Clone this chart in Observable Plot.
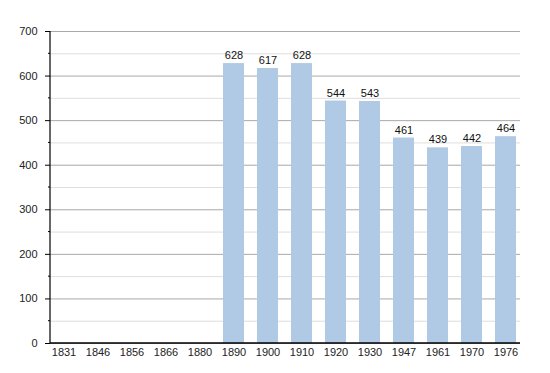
<!DOCTYPE html>
<html>
<head>
<meta charset="utf-8">
<script src="https://cdn.jsdelivr.net/npm/d3@7"></script>
<script src="https://cdn.jsdelivr.net/npm/@observablehq/plot@0.6"></script>
<style>
  html, body { margin: 0; padding: 0; background: #fff; }
  svg { display: block; }
</style>
</head>
<body>
<div id="chart"></div>
<script>
const years = ["1831","1846","1856","1866","1880","1890","1900","1910","1920","1930","1947","1961","1970","1976"];
const population = [null,null,null,null,null,628,617,628,544,543,461,439,442,464];
const majorTicks = [0,100,200,300,400,500,600,700];
const minorTicks = [50,150,250,350,450,550,650];

const data = years.map((y, i) => ({year: y, value: population[i]}));
const bars = data.filter(d => d.value != null);

const chart = Plot.plot({
  width: 550,
  height: 373,
  marginLeft: 50,
  marginRight: 30,
  marginTop: 31,
  marginBottom: 30,
  style: {fontFamily: "'Liberation Sans', Arial, sans-serif", fontSize: "11px", color: "#222", background: "#fff"},
  x: {domain: years, range: [48.5, 520], paddingInner: 0.39, paddingOuter: 0, label: null},
  y: {domain: [0, 700], label: null},
  marks: [
    Plot.ruleY(minorTicks, {stroke: "#dedede", strokeWidth: 1}),
    Plot.ruleY(majorTicks, {stroke: "#a8a8a8", strokeWidth: 1}),
    Plot.barY(bars, {x: "year", y: "value", fill: "#b0c9e4"}),
    Plot.text(bars, {x: "year", y: "value", text: d => String(d.value), dy: -8, fontSize: 11, fill: "#111"}),
    Plot.axisY(majorTicks, {tickSize: 5, tickPadding: 8, fontSize: 11, fill: "#222", stroke: "#000"}),
    Plot.tickY(minorTicks, {x: null, stroke: "#000", strokeWidth: 1, render: (index, scales, values, dims, context) => {
      const g = d3.create("svg:g");
      for (const v of minorTicks) {
        const yy = scales.y(v);
        g.append("line").attr("x1", dims.marginLeft - 2).attr("x2", dims.marginLeft).attr("y1", yy).attr("y2", yy).attr("stroke", "#000");
      }
      return g.node();
    }}),
    Plot.axisX({tickSize: 0, tickPadding: 5, fontSize: 11, fill: "#222"}),
    Plot.ruleX([0], {x: null, y1: 0, y2: 700, stroke: "#000", strokeWidth: 1.2, render: (index, scales, values, dims) => {
      const g = d3.create("svg:g");
      g.append("line").attr("x1", dims.marginLeft).attr("x2", dims.marginLeft).attr("y1", scales.y(700)).attr("y2", scales.y(0)).attr("stroke", "#000").attr("stroke-width", 1.2);
      g.append("line").attr("x1", dims.marginLeft).attr("x2", dims.width - dims.marginRight).attr("y1", scales.y(0)).attr("y2", scales.y(0)).attr("stroke", "#000").attr("stroke-width", 1.5);
      return g.node();
    }})
  ]
});
document.getElementById("chart").appendChild(chart);
</script>
</body>
</html>
